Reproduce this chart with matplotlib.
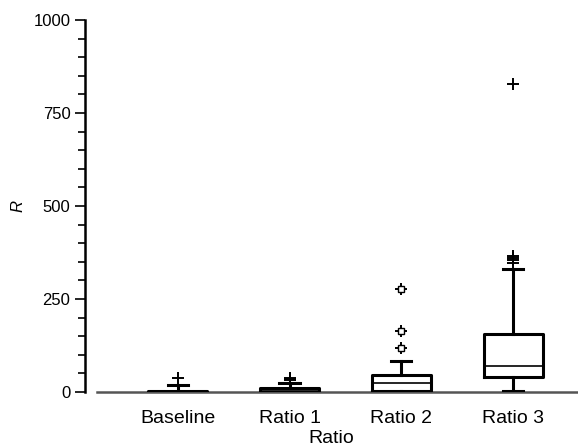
import matplotlib.pyplot as plt
from matplotlib.ticker import MultipleLocator

plt.rcParams['font.family'] = ['Liberation Sans', 'DejaVu Sans']

groups = ['Baseline', 'Ratio 1', 'Ratio 2', 'Ratio 3']
q1 = [1, 1, 2, 40]
med = [2, 5, 25, 71]
q3 = [4, 11, 45, 156]
whislo = [0, 0, 0, 3]
whishi = [20, 25, 83, 331]
fliers = [
    [39],
    [33, 36, 39],
    [119, 165, 276],
    [348, 354, 360, 366, 827],
]
# groups whose outliers are drawn as open markers
open_fliers = ['Ratio 2']

fig = plt.figure(figsize=(5.78, 4.47), dpi=100)
ax = fig.add_axes([0.147, 0.123, 0.853, 0.832])

box_style = dict(color='black', linewidth=2.2)
for i, name in enumerate(groups):
    stats = [dict(label=name, q1=q1[i], med=med[i], q3=q3[i],
                  whislo=whislo[i], whishi=whishi[i], fliers=fliers[i])]
    fp = dict(marker='+', markersize=9, markeredgecolor='black',
              markeredgewidth=1.4, linestyle='none')
    ax.bxp(stats, positions=[i + 1], widths=0.53, capwidths=0.18,
           boxprops=box_style, whiskerprops=box_style, capprops=box_style,
           medianprops=dict(color='black', linewidth=1.2),
           flierprops=fp, showfliers=True, zorder=3)
    if name in open_fliers:
        ax.plot([i + 1] * len(fliers[i]), fliers[i], linestyle='none',
                marker='s', markersize=5, markerfacecolor='white',
                markeredgecolor='black', markeredgewidth=1.0, zorder=4)

ax.set_xlim(0.17, 4.58)
ax.set_ylim(0, 1000)
ax.spines['top'].set_visible(False)
ax.spines['right'].set_visible(False)
ax.spines['bottom'].set_color('#555555')
ax.spines['bottom'].set_linewidth(1.8)
ax.spines['bottom'].set_bounds(0.28, 4.58)
ax.spines['left'].set_linewidth(1.8)

ax.yaxis.set_major_locator(MultipleLocator(250))
ax.yaxis.set_minor_locator(MultipleLocator(50))
ax.tick_params(axis='y', which='major', length=7, width=1.2, labelsize=12)
ax.tick_params(axis='y', which='minor', length=5, width=1.2)
ax.tick_params(axis='x', length=0, labelsize=14, pad=13)

ax.set_xticks(range(1, 5))
ax.set_xticklabels(groups)
ax.set_xlabel('Ratio', fontsize=14, labelpad=2)
ax.set_ylabel('R', fontsize=12, style='italic', labelpad=6)

plt.savefig('out.png')
